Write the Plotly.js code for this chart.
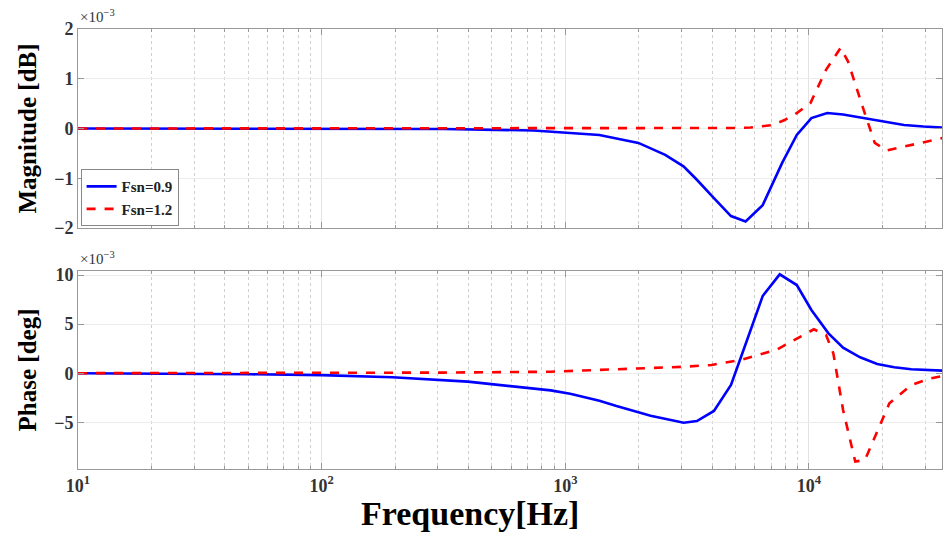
<!DOCTYPE html>
<html>
<head>
<meta charset="utf-8">
<script src="https://cdn.plot.ly/plotly-3.0.1.min.js"></script>
<style>html,body{margin:0;padding:0;background:#fff;}#chart{width:951px;height:537px;}</style>
</head>
<body>
<div id="chart"></div>
<script>
// Frequencies (Hz) and values (x1e-3)
const magF09Freq = [10, 31.6, 100, 316, 741, 871, 1380, 1995, 2570, 3055, 3467, 4074, 4786, 5495, 6457, 7762, 8913, 10233, 11885, 13804, 16596, 20417, 24547, 29512, 35481];
const magF09 = [0, 0, 0, -0.01, -0.04, -0.06, -0.13, -0.29, -0.53, -0.76, -1.03, -1.40, -1.76, -1.87, -1.54, -0.69, -0.13, 0.21, 0.31, 0.28, 0.21, 0.13, 0.07, 0.04, 0.02];
const magF12Freq = [10, 100, 1000, 3162, 5012, 5754, 7079, 7943, 8913, 10139, 11749, 13490, 14454, 16596, 18621, 20893, 24547, 29512, 35481];
const magF12 = [0, 0, 0, 0, 0.01, 0.02, 0.07, 0.17, 0.31, 0.51, 1.18, 1.62, 1.35, 0.44, -0.29, -0.44, -0.36, -0.27, -0.19];

const phF09Freq = [10, 31.6, 51.3, 100, 195, 398, 741, 871, 1047, 1189, 1380, 1622, 2239, 3062, 3467, 4074, 4786, 5572, 6457, 7586, 8913, 10233, 12023, 13804, 16218, 19055, 22387, 26303, 35481];
const phF09 = [0, -0.03, -0.11, -0.2, -0.42, -0.86, -1.54, -1.75, -2.1, -2.45, -2.8, -3.35, -4.33, -5.04, -4.87, -3.85, -1.2, 3.38, 7.86, 10.07, 8.98, 6.44, 4.06, 2.6, 1.62, 0.94, 0.6, 0.4, 0.26];
const phF12Freq = [10, 100, 316, 871, 1622, 3090, 3981, 5248, 7413, 8913, 10471, 11749, 12589, 13804, 15488, 16982, 18621, 21380, 26303, 31623, 35481];
const phF12 = [0, 0.02, 0.06, 0.15, 0.4, 0.66, 0.84, 1.34, 2.43, 3.55, 4.47, 3.89, 2.03, -3.75, -9.0, -8.84, -6.47, -3.07, -1.2, -0.52, -0.29];

const seriesNames = ['Fsn=0.9', 'Fsn=1.2'];
const xTickVals = [10, 100, 1000, 10000];
const xTickText = ['10<sup>1</sup>', '10<sup>2</sup>', '10<sup>3</sup>', '10<sup>4</sup>'];
const magTickVals = [-2, -1, 0, 1, 2];
const magTickText = ['\u22122', '\u22121', '0', '1', '2'];
const phTickVals = [-5, 0, 5, 10];
const phTickText = ['\u22125', '0', '5', '10'];

const serif = 'Liberation Serif, DejaVu Serif, serif';
const blue = '#0000ff', red = '#ff0000';

const traces = [
  {x: magF09Freq, y: magF09, name: seriesNames[0], xaxis: 'x', yaxis: 'y', mode: 'lines', line: {color: blue, width: 2.6}},
  {x: magF12Freq, y: magF12, name: seriesNames[1], xaxis: 'x', yaxis: 'y', mode: 'lines', line: {color: red, width: 2.6, dash: 'dash'}},
  {x: phF09Freq, y: phF09, name: seriesNames[0], xaxis: 'x2', yaxis: 'y2', mode: 'lines', showlegend: false, line: {color: blue, width: 2.6}},
  {x: phF12Freq, y: phF12, name: seriesNames[1], xaxis: 'x2', yaxis: 'y2', mode: 'lines', showlegend: false, line: {color: red, width: 2.6, dash: 'dash'}}
];

const xBase = {
  type: 'log', range: [1, 4.546], tickvals: xTickVals, ticktext: xTickText,
  showline: true, linecolor: '#999', linewidth: 1, mirror: 'allticks',
  ticks: 'inside', ticklen: 6, tickcolor: '#999',
  showgrid: true, gridcolor: '#e3e3e3', zeroline: false,
  tickfont: {family: serif, size: 18, color: '#333', weight: 'bold'},
  minor: {dtick: 'D1', ticks: 'inside', ticklen: 3, tickcolor: '#999', showgrid: true, gridcolor: '#cfcfcf', griddash: 'dot', gridwidth: 1}
};
const yBase = {
  showline: true, linecolor: '#999', linewidth: 1, mirror: 'allticks',
  ticks: 'inside', ticklen: 6, tickcolor: '#999',
  showgrid: true, gridcolor: '#ececec', zeroline: false,
  tickfont: {family: serif, size: 18, color: '#333', weight: 'bold'}
};

const layout = {
  width: 951, height: 537,
  margin: {l: 78, r: 9, t: 29, b: 68},
  paper_bgcolor: '#fff', plot_bgcolor: '#fff',
  showlegend: true,
  legend: {x: 0.003, y: 0.552, xanchor: 'left', yanchor: 'bottom', bgcolor: '#fff', bordercolor: '#888', borderwidth: 1,
    font: {family: serif, size: 15, color: '#222', weight: 'bold'}, tracegroupgap: 0, itemwidth: 30},
  xaxis: Object.assign({}, xBase, {anchor: 'y', showticklabels: false, matches: 'x2'}),
  xaxis2: Object.assign({}, xBase, {anchor: 'y2'}),
  yaxis: Object.assign({}, yBase, {domain: [0.5477, 1], range: [-2, 2], tickvals: magTickVals, ticktext: magTickText,
    title: {text: 'Magnitude [dB]', standoff: 10, font: {family: serif, size: 25, color: '#000', weight: 'bold'}}}),
  yaxis2: Object.assign({}, yBase, {domain: [0, 0.45], range: [-9.76, 10.41], tickvals: phTickVals, ticktext: phTickText,
    title: {text: 'Phase [deg]', standoff: 10, font: {family: serif, size: 25, color: '#000', weight: 'bold'}}}),
  annotations: [
    {text: '\u00d710<sup>\u22123</sup>', xref: 'paper', yref: 'paper', x: 0, y: 1, xanchor: 'left', yanchor: 'bottom', yshift: 2, showarrow: false,
      font: {family: serif, size: 15, color: '#333'}},
    {text: '\u00d710<sup>\u22123</sup>', xref: 'paper', yref: 'paper', x: 0, y: 0.45, xanchor: 'left', yanchor: 'bottom', yshift: 2, showarrow: false,
      font: {family: serif, size: 15, color: '#333'}},
    {text: 'Frequency[Hz]', xref: 'paper', yref: 'paper', x: 0.4537, y: 0, yanchor: 'top', yshift: -24, showarrow: false,
      font: {family: serif, size: 34, color: '#000', weight: 'bold'}}
  ]
};

Plotly.newPlot('chart', traces, layout, {displayModeBar: false, staticPlot: true});
</script>
</body>
</html>
